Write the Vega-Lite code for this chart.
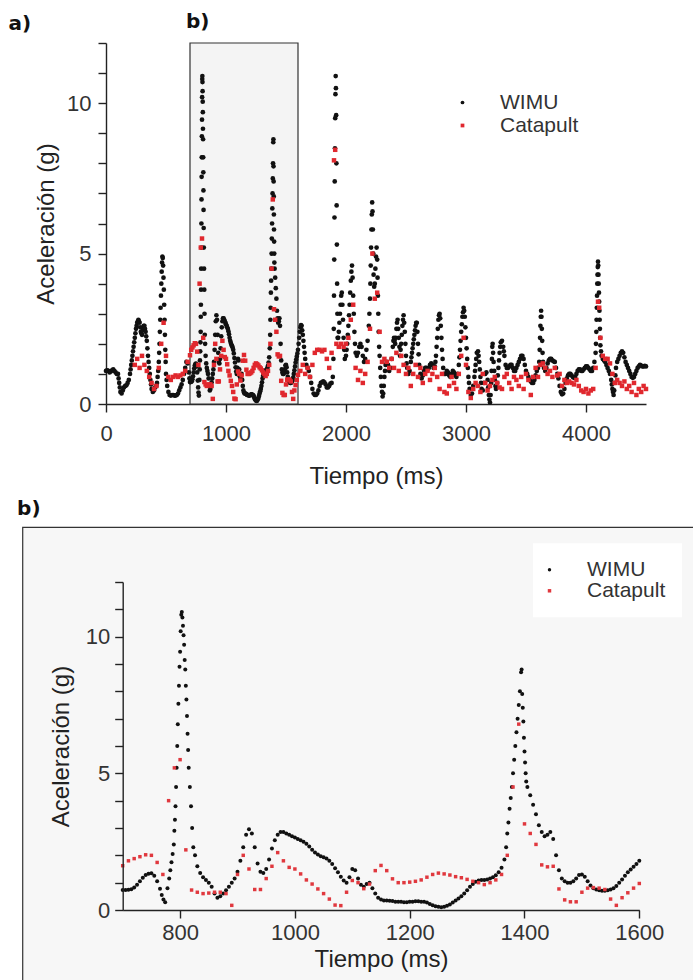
{
"$schema": "https://vega.github.io/schema/vega-lite/v6.json",
"background": "white",
"padding": {"left": 8, "top": 12, "right": 0, "bottom": 0},
"spacing": 10,
"config": {
 "font": "Liberation Sans",
 "view": {"stroke": null},
 "axis": {"grid": false, "domainColor": "#222", "domainWidth": 1.4, "tickColor": "#222", "tickWidth": 1.4, "tickSize": 8, "labelColor": "#333", "labelFontSize": 22, "titleColor": "#222", "titleFontSize": 24, "titleFontWeight": "normal", "labelFlush": false, "labelOverlap": false, "labelBound": false},
 "title": {"font": "DejaVu Sans"}
},
"resolve": {"scale": {"x": "independent", "y": "independent", "color": "independent", "shape": "independent"}, "legend": {"color": "independent", "shape": "independent"}},
"datasets": {
 "zoom": [{"t0": 700, "t1": 1600, "label": "b)"}],
 "wimu": [
{"t":0,"g":1.1},{"t":10,"g":1.12},{"t":20,"g":1.1},{"t":30,"g":1.05},{"t":40,"g":1.08},{"t":50,"g":1.12},{"t":60,"g":1.15},{"t":70,"g":1.1},{"t":80,"g":1.05},{"t":90,"g":1.0},{"t":100,"g":1.0},{"t":105,"g":0.85},{"t":110,"g":0.7},{"t":115,"g":0.55},{"t":120,"g":0.4},{"t":130,"g":0.35},{"t":140,"g":0.45},{"t":150,"g":0.55},{"t":160,"g":0.6},{"t":170,"g":0.62},{"t":180,"g":0.7},{"t":190,"g":0.8},{"t":200,"g":1.0},{"t":205,"g":1.15},{"t":210,"g":1.3},{"t":215,"g":1.45},{"t":220,"g":1.6},{"t":225,"g":1.75},{"t":230,"g":1.9},{"t":235,"g":2.05},{"t":240,"g":2.2},{"t":245,"g":2.35},{"t":250,"g":2.5},{"t":255,"g":2.6},{"t":260,"g":2.7},{"t":265,"g":2.75},{"t":270,"g":2.8},{"t":275,"g":2.75},{"t":280,"g":2.7},{"t":285,"g":2.55},{"t":290,"g":2.4},{"t":295,"g":2.35},{"t":300,"g":2.3},{"t":305,"g":2.45},{"t":310,"g":2.55},{"t":315,"g":2.6},{"t":320,"g":2.6},{"t":325,"g":2.5},{"t":330,"g":2.4},{"t":335,"g":2.25},{"t":340,"g":2.1},{"t":345,"g":1.85},{"t":350,"g":1.6},{"t":355,"g":1.4},{"t":360,"g":1.2},{"t":365,"g":1.0},{"t":370,"g":0.8},{"t":375,"g":0.65},{"t":380,"g":0.5},{"t":390,"g":0.4},{"t":400,"g":0.45},{"t":410,"g":0.55},{"t":420,"g":0.6},{"t":425,"g":0.7},{"t":430,"g":0.9},{"t":435,"g":1.1},{"t":440,"g":1.4},{"t":443,"g":1.7},{"t":446,"g":2.0},{"t":449,"g":2.4},{"t":452,"g":2.8},{"t":455,"g":3.2},{"t":458,"g":3.6},{"t":461,"g":4.0},{"t":464,"g":4.4},{"t":467,"g":4.7},{"t":470,"g":4.9},{"t":473,"g":4.85},{"t":476,"g":4.6},{"t":479,"g":4.2},{"t":482,"g":3.8},{"t":485,"g":3.3},{"t":488,"g":2.8},{"t":491,"g":2.3},{"t":494,"g":1.8},{"t":497,"g":1.4},{"t":500,"g":1.0},{"t":505,"g":0.8},{"t":510,"g":0.6},{"t":520,"g":0.4},{"t":530,"g":0.3},{"t":540,"g":0.28},{"t":550,"g":0.3},{"t":560,"g":0.3},{"t":570,"g":0.28},{"t":580,"g":0.28},{"t":590,"g":0.3},{"t":600,"g":0.35},{"t":610,"g":0.45},{"t":620,"g":0.55},{"t":630,"g":0.65},{"t":640,"g":0.8},{"t":650,"g":1.0},{"t":660,"g":1.2},{"t":670,"g":1.4},{"t":680,"g":1.35},{"t":690,"g":1.05},{"t":695,"g":0.85},
{"t":700,"g":0.73},{"t":705,"g":0.73},{"t":710,"g":0.74},{"t":715,"g":0.76},{"t":720,"g":0.82},{"t":725,"g":0.92},{"t":730,"g":1.05},{"t":735,"g":1.18},{"t":740,"g":1.28},{"t":745,"g":1.33},{"t":750,"g":1.34},{"t":755,"g":1.25},{"t":760,"g":1.05},{"t":765,"g":0.78},{"t":768,"g":0.55},{"t":771,"g":0.38},{"t":774,"g":0.28},{"t":778,"g":0.8},{"t":781,"g":1.15},{"t":783,"g":1.45},{"t":785,"g":1.75},{"t":787,"g":2.05},{"t":789,"g":2.4},{"t":790,"g":2.9},{"t":791,"g":3.3},{"t":792,"g":3.8},{"t":793,"g":4.5},{"t":794,"g":5.2},{"t":795,"g":6.0},{"t":796,"g":6.8},{"t":797,"g":7.55},{"t":798,"g":8.2},{"t":799,"g":8.9},{"t":800,"g":9.45},{"t":801,"g":10.2},{"t":802,"g":10.8},{"t":803,"g":10.9},{"t":804,"g":10.7},{"t":805,"g":10.4},{"t":806,"g":10.05},{"t":807,"g":9.7},{"t":808,"g":9.15},{"t":809,"g":8.8},{"t":810,"g":8.2},{"t":811,"g":7.7},{"t":812,"g":7.1},{"t":813,"g":6.45},{"t":814,"g":5.85},{"t":815,"g":5.2},{"t":817,"g":4.5},{"t":819,"g":3.8},{"t":821,"g":3.0},{"t":823,"g":2.3},{"t":826,"g":2.0},
{"t":830,"g":1.6},{"t":835,"g":1.35},{"t":840,"g":1.2},{"t":845,"g":1.1},{"t":850,"g":1.0},{"t":855,"g":0.85},{"t":860,"g":0.6},{"t":865,"g":0.45},{"t":870,"g":0.5},{"t":875,"g":0.6},{"t":880,"g":0.72},{"t":885,"g":0.85},{"t":890,"g":1.0},{"t":895,"g":1.15},{"t":900,"g":1.4},{"t":905,"g":1.8},{"t":910,"g":2.3},{"t":915,"g":2.75},{"t":920,"g":2.95},{"t":925,"g":2.8},{"t":930,"g":2.3},{"t":935,"g":1.7},{"t":940,"g":1.4},{"t":945,"g":1.35},{"t":950,"g":1.5},{"t":955,"g":1.85},{"t":960,"g":2.25},{"t":965,"g":2.55},{"t":970,"g":2.75},{"t":975,"g":2.85},{"t":980,"g":2.85},{"t":985,"g":2.8},{"t":990,"g":2.75},{"t":995,"g":2.7},{"t":1000,"g":2.65},{"t":1005,"g":2.6},{"t":1010,"g":2.55},{"t":1015,"g":2.5},{"t":1020,"g":2.42},{"t":1025,"g":2.32},{"t":1030,"g":2.2},{"t":1035,"g":2.1},{"t":1040,"g":2.03},{"t":1045,"g":1.97},{"t":1050,"g":1.93},{"t":1055,"g":1.88},{"t":1060,"g":1.8},{"t":1065,"g":1.68},{"t":1070,"g":1.53},{"t":1075,"g":1.38},{"t":1080,"g":1.22},{"t":1085,"g":1.08},{"t":1090,"g":1.0},{"t":1095,"g":1.2},{"t":1100,"g":1.5},{"t":1105,"g":1.45},{"t":1110,"g":1.15},{"t":1115,"g":0.92},{"t":1120,"g":0.85},{"t":1125,"g":0.95},{"t":1130,"g":1.0},{"t":1135,"g":0.8},{"t":1140,"g":0.6},{"t":1145,"g":0.45},{"t":1150,"g":0.38},{"t":1155,"g":0.35},{"t":1160,"g":0.35},{"t":1165,"g":0.34},{"t":1170,"g":0.33},{"t":1175,"g":0.3},{"t":1180,"g":0.3},{"t":1185,"g":0.3},{"t":1190,"g":0.28},{"t":1195,"g":0.28},{"t":1200,"g":0.3},{"t":1205,"g":0.3},{"t":1210,"g":0.32},{"t":1215,"g":0.32},{"t":1220,"g":0.3},{"t":1225,"g":0.3},{"t":1230,"g":0.27},{"t":1235,"g":0.22},{"t":1240,"g":0.17},{"t":1245,"g":0.14},{"t":1250,"g":0.12},{"t":1255,"g":0.1},{"t":1260,"g":0.12},{"t":1265,"g":0.16},{"t":1270,"g":0.2},{"t":1275,"g":0.27},{"t":1280,"g":0.35},{"t":1285,"g":0.42},{"t":1290,"g":0.5},{"t":1295,"g":0.6},{"t":1300,"g":0.72},{"t":1305,"g":0.85},{"t":1310,"g":0.95},{"t":1315,"g":1.03},{"t":1320,"g":1.08},{"t":1325,"g":1.1},{"t":1330,"g":1.1},{"t":1335,"g":1.12},{"t":1340,"g":1.15},{"t":1345,"g":1.2},{"t":1350,"g":1.27},{"t":1355,"g":1.38},{"t":1360,"g":1.55},{"t":1365,"g":1.85},{"t":1368,"g":2.3},{"t":1370,"g":2.8},{"t":1372,"g":3.2},{"t":1374,"g":3.7},{"t":1376,"g":4.1},{"t":1378,"g":4.5},{"t":1380,"g":5.0},{"t":1382,"g":5.5},{"t":1384,"g":6.0},{"t":1386,"g":6.5},{"t":1388,"g":7.0},{"t":1390,"g":7.5},{"t":1392,"g":8.0},{"t":1394,"g":8.7},{"t":1395,"g":8.8},{"t":1396,"g":7.9},{"t":1397,"g":7.4},{"t":1398,"g":6.9},{"t":1399,"g":6.3},{"t":1400,"g":5.8},{"t":1401,"g":5.4},{"t":1402,"g":5.0},{"t":1403,"g":4.7},{"t":1405,"g":4.5},{"t":1410,"g":4.2},{"t":1415,"g":3.85},{"t":1420,"g":3.5},{"t":1425,"g":3.1},{"t":1430,"g":2.85},{"t":1435,"g":2.7},{"t":1440,"g":2.75},{"t":1445,"g":2.85},{"t":1450,"g":2.6},{"t":1455,"g":2.0},{"t":1460,"g":1.45},{"t":1465,"g":1.15},{"t":1470,"g":1.05},{"t":1475,"g":1.0},{"t":1480,"g":1.0},{"t":1485,"g":1.05},{"t":1490,"g":1.15},{"t":1495,"g":1.28},{"t":1500,"g":1.3},{"t":1505,"g":1.22},{"t":1510,"g":1.05},{"t":1515,"g":0.9},{"t":1520,"g":0.8},{"t":1525,"g":0.75},{"t":1530,"g":0.72},{"t":1535,"g":0.7},{"t":1540,"g":0.7},{"t":1545,"g":0.72},{"t":1550,"g":0.75},{"t":1555,"g":0.8},{"t":1560,"g":0.88},{"t":1565,"g":1.0},{"t":1570,"g":1.12},{"t":1575,"g":1.25},{"t":1580,"g":1.38},{"t":1585,"g":1.48},{"t":1590,"g":1.58},{"t":1595,"g":1.68},{"t":1600,"g":1.8},
{"t":1605,"g":2.0},{"t":1610,"g":2.2},{"t":1615,"g":2.4},{"t":1620,"g":2.55},{"t":1625,"g":2.62},{"t":1630,"g":2.6},{"t":1635,"g":2.45},{"t":1640,"g":2.3},{"t":1645,"g":2.1},{"t":1650,"g":1.9},{"t":1655,"g":1.7},{"t":1660,"g":1.5},{"t":1670,"g":1.3},{"t":1680,"g":1.2},{"t":1690,"g":1.1},{"t":1700,"g":0.9},{"t":1710,"g":0.7},{"t":1720,"g":0.5},{"t":1730,"g":0.35},{"t":1740,"g":0.3},{"t":1750,"g":0.3},{"t":1760,"g":0.35},{"t":1770,"g":0.45},{"t":1780,"g":0.6},{"t":1790,"g":0.7},{"t":1800,"g":0.72},{"t":1810,"g":0.75},{"t":1820,"g":0.72},{"t":1830,"g":0.65},{"t":1840,"g":0.55},{"t":1850,"g":0.55},{"t":1860,"g":0.6},{"t":1870,"g":0.68},{"t":1880,"g":0.7},{"t":1890,"g":0.9},{"t":1895,"g":1.5},{"t":1898,"g":2.5},{"t":1900,"g":3.6},{"t":1902,"g":4.8},{"t":1904,"g":6.2},{"t":1906,"g":7.4},{"t":1908,"g":8.5},{"t":1910,"g":9.5},{"t":1912,"g":10.3},{"t":1914,"g":10.9},{"t":1916,"g":10.5},{"t":1918,"g":9.6},{"t":1920,"g":8.0},{"t":1922,"g":6.6},{"t":1924,"g":5.3},{"t":1926,"g":4.0},{"t":1928,"g":3.0},{"t":1930,"g":2.2},{"t":1935,"g":2.2},{"t":1940,"g":2.4},{"t":1945,"g":2.7},{"t":1950,"g":3.0},{"t":1955,"g":3.3},{"t":1960,"g":3.6},{"t":1965,"g":3.7},{"t":1970,"g":3.3},{"t":1975,"g":2.8},{"t":1980,"g":2.2},{"t":1985,"g":1.8},{"t":1990,"g":1.5},{"t":2000,"g":1.6},{"t":2005,"g":1.8},{"t":2010,"g":2.0},{"t":2015,"g":2.3},{"t":2020,"g":2.6},{"t":2025,"g":2.95},{"t":2030,"g":3.3},{"t":2035,"g":3.7},{"t":2040,"g":4.1},{"t":2045,"g":4.4},{"t":2050,"g":4.6},{"t":2055,"g":4.2},{"t":2060,"g":3.6},{"t":2065,"g":3.0},{"t":2070,"g":2.4},{"t":2075,"g":2.0},{"t":2080,"g":1.7},{"t":2090,"g":1.6},{"t":2100,"g":1.7},{"t":2110,"g":1.9},{"t":2120,"g":2.0},{"t":2130,"g":1.9},{"t":2140,"g":1.6},{"t":2150,"g":1.4},{"t":2160,"g":1.5},{"t":2170,"g":1.8},{"t":2180,"g":2.1},{"t":2190,"g":2.6},{"t":2195,"g":3.0},{"t":2200,"g":3.5},{"t":2203,"g":4.0},{"t":2206,"g":4.6},{"t":2209,"g":5.2},{"t":2212,"g":5.8},{"t":2215,"g":6.3},{"t":2218,"g":6.7},{"t":2221,"g":6.4},{"t":2224,"g":5.8},{"t":2227,"g":5.0},{"t":2230,"g":4.3},{"t":2235,"g":3.9},{"t":2240,"g":4.0},{"t":2245,"g":4.5},{"t":2250,"g":4.9},{"t":2255,"g":5.2},{"t":2260,"g":4.8},{"t":2263,"g":4.2},{"t":2266,"g":3.6},{"t":2269,"g":3.0},{"t":2272,"g":2.4},{"t":2276,"g":1.9},{"t":2280,"g":1.6},{"t":2285,"g":1.2},{"t":2290,"g":0.9},{"t":2295,"g":0.6},{"t":2300,"g":0.4},{"t":2305,"g":0.25},{"t":2310,"g":0.35},{"t":2315,"g":0.6},{"t":2320,"g":0.9},{"t":2325,"g":1.1},{"t":2330,"g":1.3},{"t":2340,"g":1.4},{"t":2350,"g":1.3},{"t":2360,"g":1.1},{"t":2370,"g":1.2},{"t":2380,"g":1.5},{"t":2390,"g":1.9},{"t":2395,"g":2.1},{"t":2400,"g":2.2},{"t":2405,"g":2.1},{"t":2410,"g":2.0},{"t":2415,"g":2.2},{"t":2420,"g":2.5},{"t":2425,"g":2.7},{"t":2430,"g":2.8},{"t":2435,"g":2.5},{"t":2440,"g":2.2},{"t":2445,"g":1.9},{"t":2450,"g":1.6},{"t":2455,"g":1.8},{"t":2460,"g":2.0},{"t":2465,"g":2.3},{"t":2470,"g":2.6},{"t":2475,"g":2.8},{"t":2480,"g":2.95},{"t":2485,"g":2.7},{"t":2490,"g":2.4},{"t":2495,"g":2.0},{"t":2500,"g":1.6},{"t":2505,"g":1.35},{"t":2510,"g":1.2},{"t":2520,"g":1.0},{"t":2530,"g":1.1},{"t":2540,"g":1.4},{"t":2545,"g":1.55},{"t":2550,"g":1.7},{"t":2555,"g":1.85},{"t":2560,"g":2.0},{"t":2565,"g":2.15},{"t":2570,"g":2.3},{"t":2575,"g":2.45},{"t":2580,"g":2.6},{"t":2585,"g":2.7},{"t":2590,"g":2.7},{"t":2595,"g":2.4},{"t":2600,"g":2.0},{"t":2605,"g":1.65},{"t":2610,"g":1.3},{"t":2620,"g":1.0},{"t":2630,"g":0.85},{"t":2640,"g":0.95},{"t":2650,"g":1.1},{"t":2660,"g":1.2},{"t":2670,"g":1.2},{"t":2680,"g":1.15},{"t":2690,"g":1.2},{"t":2700,"g":1.3},{"t":2710,"g":1.35},{"t":2720,"g":1.3},{"t":2730,"g":1.2},{"t":2740,"g":1.25},{"t":2745,"g":1.4},{"t":2750,"g":1.6},{"t":2755,"g":1.9},{"t":2760,"g":2.2},{"t":2765,"g":2.5},{"t":2770,"g":2.8},{"t":2775,"g":2.95},{"t":2780,"g":3.0},{"t":2785,"g":2.85},{"t":2790,"g":2.6},{"t":2795,"g":2.2},{"t":2800,"g":1.8},{"t":2805,"g":1.5},{"t":2810,"g":1.2},{"t":2820,"g":1.0},{"t":2830,"g":1.0},{"t":2840,"g":1.1},{"t":2850,"g":1.05},{"t":2860,"g":0.95},{"t":2870,"g":0.9},{"t":2880,"g":1.0},{"t":2890,"g":1.1},{"t":2900,"g":1.05},{"t":2910,"g":0.95},{"t":2920,"g":0.9},{"t":2930,"g":1.0},{"t":2940,"g":1.3},{"t":2945,"g":1.55},{"t":2950,"g":1.8},{"t":2955,"g":2.1},{"t":2960,"g":2.4},{"t":2965,"g":2.65},{"t":2970,"g":2.9},{"t":2975,"g":3.05},{"t":2980,"g":3.2},{"t":2985,"g":3.1},{"t":2990,"g":2.9},{"t":2995,"g":2.55},{"t":3000,"g":2.2},{"t":3005,"g":1.85},{"t":3010,"g":1.5},{"t":3015,"g":1.2},{"t":3020,"g":0.9},{"t":3025,"g":0.7},{"t":3030,"g":0.5},{"t":3040,"g":0.3},{"t":3050,"g":0.35},{"t":3060,"g":0.6},{"t":3070,"g":0.9},{"t":3075,"g":1.1},{"t":3080,"g":1.3},{"t":3085,"g":1.5},{"t":3090,"g":1.7},{"t":3100,"g":1.75},{"t":3105,"g":1.6},{"t":3110,"g":1.4},{"t":3115,"g":1.15},{"t":3120,"g":0.9},{"t":3125,"g":0.7},{"t":3130,"g":0.5},{"t":3140,"g":0.45},{"t":3150,"g":0.7},{"t":3160,"g":1.0},{"t":3170,"g":1.05},{"t":3180,"g":0.8},{"t":3185,"g":0.55},{"t":3190,"g":0.3},{"t":3195,"g":0.15},{"t":3200,"g":0.05},{"t":3205,"g":0.3},{"t":3210,"g":0.7},{"t":3213,"g":1.1},{"t":3216,"g":1.5},{"t":3219,"g":1.9},{"t":3222,"g":2.0},{"t":3226,"g":1.7},{"t":3230,"g":1.4},{"t":3235,"g":1.1},{"t":3240,"g":0.8},{"t":3245,"g":0.6},{"t":3250,"g":0.5},{"t":3255,"g":0.55},{"t":3260,"g":0.7},{"t":3265,"g":0.95},{"t":3270,"g":1.2},{"t":3275,"g":1.45},{"t":3280,"g":1.7},{"t":3285,"g":1.9},{"t":3290,"g":2.05},{"t":3300,"g":2.1},{"t":3310,"g":1.9},{"t":3315,"g":1.75},{"t":3320,"g":1.6},{"t":3330,"g":1.3},{"t":3340,"g":1.2},{"t":3350,"g":1.2},{"t":3360,"g":1.25},{"t":3370,"g":1.3},{"t":3380,"g":1.3},{"t":3390,"g":1.2},{"t":3400,"g":1.1},{"t":3410,"g":1.1},{"t":3420,"g":1.2},{"t":3430,"g":1.3},{"t":3440,"g":1.4},{"t":3450,"g":1.5},{"t":3460,"g":1.6},{"t":3470,"g":1.6},{"t":3480,"g":1.5},{"t":3490,"g":1.3},{"t":3500,"g":1.1},{"t":3510,"g":1.0},{"t":3520,"g":0.9},{"t":3530,"g":0.8},{"t":3540,"g":0.75},{"t":3550,"g":0.7},{"t":3560,"g":0.7},{"t":3570,"g":0.8},{"t":3580,"g":0.95},{"t":3590,"g":1.1},{"t":3600,"g":1.2},{"t":3610,"g":1.4},{"t":3614,"g":1.8},{"t":3617,"g":2.2},{"t":3620,"g":2.6},{"t":3623,"g":2.9},{"t":3626,"g":3.1},{"t":3629,"g":2.9},{"t":3632,"g":2.5},{"t":3635,"g":2.1},{"t":3638,"g":1.7},{"t":3642,"g":1.4},{"t":3650,"g":1.2},{"t":3660,"g":1.1},{"t":3670,"g":1.2},{"t":3680,"g":1.35},{"t":3690,"g":1.45},{"t":3700,"g":1.5},{"t":3710,"g":1.5},{"t":3720,"g":1.45},{"t":3730,"g":1.42},{"t":3740,"g":1.4},{"t":3750,"g":1.2},{"t":3760,"g":1.0},{"t":3770,"g":0.85},{"t":3780,"g":0.6},{"t":3790,"g":0.4},{"t":3800,"g":0.32},{"t":3810,"g":0.35},{"t":3820,"g":0.5},{"t":3830,"g":0.7},{"t":3840,"g":0.85},{"t":3850,"g":0.95},{"t":3860,"g":1.0},{"t":3870,"g":1.0},{"t":3880,"g":0.95},{"t":3890,"g":0.9},{"t":3900,"g":0.87},{"t":3910,"g":0.9},{"t":3920,"g":1.0},{"t":3930,"g":1.1},{"t":3940,"g":1.15},{"t":3950,"g":1.15},{"t":3960,"g":1.1},{"t":3970,"g":1.1},{"t":3980,"g":1.15},{"t":3990,"g":1.2},{"t":4000,"g":1.25},{"t":4010,"g":1.25},{"t":4020,"g":1.2},{"t":4030,"g":1.15},{"t":4040,"g":1.1},{"t":4050,"g":1.1},{"t":4060,"g":1.2},{"t":4070,"g":1.4},{"t":4080,"g":1.7},{"t":4083,"g":2.0},{"t":4086,"g":2.4},{"t":4088,"g":2.8},{"t":4090,"g":3.2},{"t":4092,"g":3.6},{"t":4094,"g":4.0},{"t":4096,"g":4.3},{"t":4098,"g":4.55},{"t":4100,"g":4.73},{"t":4102,"g":4.6},{"t":4104,"g":4.3},{"t":4106,"g":4.0},{"t":4108,"g":3.7},{"t":4110,"g":3.4},{"t":4112,"g":3.1},{"t":4114,"g":2.8},{"t":4116,"g":2.5},{"t":4118,"g":2.2},{"t":4120,"g":1.95},{"t":4125,"g":1.75},{"t":4130,"g":1.6},{"t":4140,"g":1.5},{"t":4150,"g":1.45},{"t":4160,"g":1.4},{"t":4170,"g":1.3},{"t":4180,"g":1.2},{"t":4190,"g":1.1},{"t":4200,"g":1.0},{"t":4210,"g":0.8},{"t":4215,"g":0.65},{"t":4220,"g":0.5},{"t":4225,"g":0.4},{"t":4230,"g":0.3},{"t":4235,"g":0.45},{"t":4240,"g":0.7},{"t":4245,"g":0.95},{"t":4250,"g":1.2},{"t":4260,"g":1.4},{"t":4270,"g":1.5},{"t":4280,"g":1.6},{"t":4290,"g":1.7},{"t":4300,"g":1.75},{"t":4310,"g":1.7},{"t":4320,"g":1.55},{"t":4330,"g":1.4},{"t":4340,"g":1.3},{"t":4350,"g":1.2},{"t":4360,"g":1.1},{"t":4370,"g":1.0},{"t":4380,"g":0.9},{"t":4390,"g":0.87},{"t":4400,"g":0.9},{"t":4410,"g":1.0},{"t":4420,"g":1.1},{"t":4430,"g":1.2},{"t":4440,"g":1.25},{"t":4450,"g":1.3},{"t":4460,"g":1.28},{"t":4470,"g":1.25},{"t":4480,"g":1.25},{"t":4490,"g":1.27},{"t":4500,"g":1.25}
 ],
 "cat": [
{"t":240,"g":1.3},{"t":260,"g":1.5},{"t":280,"g":1.2},{"t":300,"g":1.6},{"t":320,"g":1.3},{"t":340,"g":1.1},{"t":360,"g":0.9},{"t":380,"g":0.7},{"t":400,"g":0.5},{"t":420,"g":0.6},{"t":440,"g":1.2},{"t":460,"g":2.0},{"t":480,"g":2.7},{"t":500,"g":1.6},{"t":520,"g":0.9},{"t":540,"g":0.8},{"t":560,"g":0.9},{"t":580,"g":0.95},{"t":600,"g":0.9},{"t":620,"g":0.95},{"t":640,"g":1.0},{"t":660,"g":1.1},{"t":680,"g":1.4},
{"t":700,"g":1.62},{"t":710,"g":1.8},{"t":720,"g":1.88},{"t":730,"g":1.95},{"t":740,"g":2.02},{"t":750,"g":2.0},{"t":760,"g":1.74},{"t":770,"g":1.3},{"t":780,"g":4.0},{"t":790,"g":5.2},{"t":800,"g":5.5},{"t":810,"g":2.2},{"t":820,"g":0.73},{"t":830,"g":0.65},{"t":840,"g":0.6},{"t":850,"g":0.62},{"t":860,"g":0.65},{"t":870,"g":0.65},{"t":880,"g":0.6},{"t":890,"g":0.17},{"t":900,"g":1.3},{"t":910,"g":2.0},{"t":920,"g":1.5},{"t":930,"g":0.75},{"t":940,"g":0.75},{"t":950,"g":1.15},{"t":960,"g":1.6},{"t":970,"g":2.1},{"t":980,"g":1.8},{"t":990,"g":1.56},{"t":1000,"g":1.5},{"t":1010,"g":1.32},{"t":1020,"g":1.1},{"t":1030,"g":0.95},{"t":1040,"g":0.77},{"t":1050,"g":0.6},{"t":1060,"g":0.4},{"t":1070,"g":0.18},{"t":1080,"g":0.16},{"t":1090,"g":0.65},{"t":1100,"g":1.08},{"t":1110,"g":1.0},{"t":1120,"g":0.78},{"t":1130,"g":0.95},{"t":1140,"g":1.44},{"t":1150,"g":1.63},{"t":1160,"g":1.44},{"t":1170,"g":1.14},{"t":1180,"g":1.0},{"t":1190,"g":1.0},{"t":1200,"g":1.02},{"t":1210,"g":1.05},{"t":1220,"g":1.1},{"t":1230,"g":1.2},{"t":1240,"g":1.3},{"t":1250,"g":1.35},{"t":1260,"g":1.32},{"t":1270,"g":1.28},{"t":1280,"g":1.22},{"t":1290,"g":1.18},{"t":1300,"g":1.12},{"t":1310,"g":1.05},{"t":1320,"g":1.0},{"t":1330,"g":0.93},{"t":1340,"g":1.0},{"t":1350,"g":1.1},{"t":1360,"g":1.3},{"t":1370,"g":2.0},{"t":1380,"g":4.5},{"t":1390,"g":6.8},{"t":1400,"g":3.15},{"t":1410,"g":2.8},{"t":1420,"g":2.4},{"t":1430,"g":1.65},{"t":1440,"g":1.58},{"t":1450,"g":1.6},{"t":1460,"g":0.77},{"t":1470,"g":0.37},{"t":1480,"g":0.3},{"t":1490,"g":0.3},{"t":1500,"g":0.65},{"t":1510,"g":0.8},{"t":1520,"g":0.82},{"t":1530,"g":0.8},{"t":1540,"g":0.75},{"t":1550,"g":0.4},{"t":1560,"g":0.17},{"t":1570,"g":0.45},{"t":1580,"g":0.63},{"t":1590,"g":0.8},{"t":1600,"g":0.97},
{"t":1620,"g":1.1},{"t":1640,"g":1.3},{"t":1660,"g":1.0},{"t":1680,"g":1.2},{"t":1700,"g":0.9},{"t":1720,"g":1.3},{"t":1740,"g":1.7},{"t":1760,"g":1.8},{"t":1780,"g":1.8},{"t":1800,"g":1.75},{"t":1820,"g":1.8},{"t":1840,"g":1.5},{"t":1860,"g":1.2},{"t":1880,"g":1.7},{"t":1900,"g":8.1},{"t":1910,"g":8.45},{"t":1920,"g":2.0},{"t":1940,"g":1.9},{"t":1960,"g":2.0},{"t":1980,"g":1.9},{"t":2000,"g":2.0},{"t":2020,"g":2.2},{"t":2040,"g":2.8},{"t":2060,"g":3.3},{"t":2080,"g":1.2},{"t":2100,"g":0.8},{"t":2120,"g":1.1},{"t":2140,"g":0.7},{"t":2160,"g":1.0},{"t":2180,"g":1.4},{"t":2200,"g":2.5},{"t":2220,"g":5.0},{"t":2240,"g":3.5},{"t":2260,"g":3.7},{"t":2280,"g":2.4},{"t":2300,"g":1.4},{"t":2320,"g":1.5},{"t":2340,"g":1.4},{"t":2360,"g":1.2},{"t":2380,"g":1.5},{"t":2400,"g":1.2},{"t":2420,"g":1.7},{"t":2440,"g":1.1},{"t":2460,"g":1.6},{"t":2480,"g":1.3},{"t":2500,"g":1.0},{"t":2520,"g":1.2},{"t":2540,"g":0.6},{"t":2560,"g":1.0},{"t":2580,"g":1.3},{"t":2600,"g":0.9},{"t":2620,"g":1.2},{"t":2640,"g":0.7},{"t":2660,"g":1.0},{"t":2680,"g":1.1},{"t":2700,"g":0.8},{"t":2720,"g":1.0},{"t":2740,"g":1.2},{"t":2760,"g":0.9},{"t":2780,"g":0.5},{"t":2800,"g":1.0},{"t":2820,"g":0.4},{"t":2840,"g":0.35},{"t":2860,"g":0.6},{"t":2880,"g":0.9},{"t":2900,"g":0.7},{"t":2920,"g":0.5},{"t":2940,"g":1.0},{"t":2960,"g":1.6},{"t":2980,"g":2.2},{"t":3000,"g":1.3},{"t":3020,"g":0.4},{"t":3040,"g":0.2},{"t":3060,"g":0.5},{"t":3080,"g":0.7},{"t":3100,"g":0.6},{"t":3120,"g":0.4},{"t":3140,"g":1.0},{"t":3160,"g":0.7},{"t":3180,"g":0.45},{"t":3200,"g":0.6},{"t":3220,"g":0.8},{"t":3240,"g":0.9},{"t":3260,"g":0.7},{"t":3280,"g":0.55},{"t":3300,"g":0.5},{"t":3320,"g":0.9},{"t":3340,"g":1.0},{"t":3360,"g":0.7},{"t":3380,"g":0.5},{"t":3400,"g":0.9},{"t":3420,"g":0.8},{"t":3440,"g":0.6},{"t":3460,"g":0.9},{"t":3480,"g":0.5},{"t":3500,"g":1.0},{"t":3520,"g":0.8},{"t":3540,"g":0.3},{"t":3560,"g":0.9},{"t":3580,"g":1.2},{"t":3600,"g":0.9},{"t":3620,"g":1.3},{"t":3640,"g":1.35},{"t":3660,"g":1.2},{"t":3680,"g":1.0},{"t":3700,"g":1.1},{"t":3720,"g":0.9},{"t":3740,"g":1.2},{"t":3760,"g":0.95},{"t":3780,"g":1.0},{"t":3800,"g":0.6},{"t":3820,"g":0.8},{"t":3840,"g":0.7},{"t":3860,"g":0.75},{"t":3880,"g":0.7},{"t":3900,"g":0.65},{"t":3920,"g":0.8},{"t":3940,"g":0.6},{"t":3960,"g":0.45},{"t":3980,"g":0.4},{"t":4000,"g":0.5},{"t":4020,"g":0.35},{"t":4040,"g":0.45},{"t":4060,"g":0.5},{"t":4080,"g":1.2},{"t":4100,"g":3.4},{"t":4110,"g":3.2},{"t":4120,"g":2.2},{"t":4140,"g":1.6},{"t":4160,"g":1.5},{"t":4180,"g":1.5},{"t":4200,"g":1.35},{"t":4220,"g":1.0},{"t":4240,"g":0.7},{"t":4260,"g":0.8},{"t":4280,"g":0.7},{"t":4300,"g":0.6},{"t":4320,"g":0.75},{"t":4340,"g":0.5},{"t":4360,"g":0.6},{"t":4380,"g":0.4},{"t":4400,"g":0.7},{"t":4420,"g":0.3},{"t":4440,"g":0.5},{"t":4460,"g":0.4},{"t":4480,"g":0.6},{"t":4500,"g":0.5}
 ]
},
"vconcat": [
 {
  "width": 540, "height": 361,
  "title": {"text": "a)", "anchor": "start", "frame": "bounds", "dx": -26, "dy": 22, "offset": 0, "fontSize": 20, "fontWeight": "bold", "color": "#111"},
  "layer": [
   {"data": {"name": "zoom"},
    "mark": {"type": "rect", "fill": "#f4f4f4", "stroke": "#333", "strokeWidth": 1.2},
    "encoding": {
     "x": {"field": "t0", "type": "quantitative", "title": "Tiempo (ms)",
       "scale": {"domain": [0, 4500], "nice": false, "zero": false},
       "axis": {"values": [0, 1000, 2000, 3000, 4000], "format": "d", "labelPadding": 11, "titlePadding": 20, "labelOverlap": false}},
     "x2": {"field": "t1"},
     "y": {"datum": 0, "type": "quantitative", "title": "Aceleración (g)",
       "scale": {"domain": [0, 12], "nice": false},
       "axis": {"values": [0,1,2,3,4,5,6,7,8,9,10,11,12], "labelExpr": "datum.value % 5 === 0 ? datum.label : ''", "labelOverlap": false, "labelPadding": 7, "titlePadding": 8}},
     "y2": {"datum": 12}
    }},
   {"data": {"name": "zoom"},
    "mark": {"type": "text", "align": "left", "baseline": "alphabetic", "dx": -4, "dy": -15, "font": "DejaVu Sans", "fontSize": 20, "fontWeight": "bold", "color": "#111"},
    "encoding": {
     "x": {"field": "t0", "type": "quantitative", "title": "Tiempo (ms)",
       "scale": {"domain": [0, 4500], "nice": false, "zero": false},
       "axis": {"values": [0, 1000, 2000, 3000, 4000], "format": "d", "labelPadding": 11, "titlePadding": 20, "labelOverlap": false}},
     "y": {"datum": 12, "type": "quantitative", "title": "Aceleración (g)",
       "scale": {"domain": [0, 12], "nice": false},
       "axis": {"values": [0,1,2,3,4,5,6,7,8,9,10,11,12], "labelExpr": "datum.value % 5 === 0 ? datum.label : ''", "labelOverlap": false, "labelPadding": 7, "titlePadding": 8}},
     "text": {"field": "label"}
    }},
   {"data": {"name": "wimu"},
    "mark": {"type": "point", "filled": true, "size": 22, "opacity": 1},
    "encoding": {
     "x": {"field": "t", "type": "quantitative", "title": "Tiempo (ms)",
       "scale": {"domain": [0, 4500], "nice": false, "zero": false},
       "axis": {"values": [0, 1000, 2000, 3000, 4000], "format": "d", "labelPadding": 11, "titlePadding": 20, "labelOverlap": false}},
     "y": {"field": "g", "type": "quantitative", "title": "Aceleración (g)",
       "scale": {"domain": [0, 12], "nice": false},
       "axis": {"values": [0,1,2,3,4,5,6,7,8,9,10,11,12], "labelExpr": "datum.value % 5 === 0 ? datum.label : ''", "labelOverlap": false, "labelPadding": 7, "titlePadding": 8}},
     "color": {"datum": "WIMU", "type": "nominal", "scale": {"domain": ["WIMU", "Catapult"], "range": ["#111111", "#e0282e"]},
       "legend": {"title": null, "orient": "none", "legendX": 346, "legendY": 49, "padding": 0, "labelOffset": 27, "rowPadding": 1, "symbolSize": 14, "labelFontSize": 21, "labelColor": "#333"}},
     "shape": {"datum": "WIMU", "type": "nominal", "scale": {"domain": ["WIMU", "Catapult"], "range": ["circle", "square"]},
       "legend": {"title": null, "orient": "none", "legendX": 346, "legendY": 49, "padding": 0, "labelOffset": 27, "rowPadding": 1, "symbolSize": 14, "labelFontSize": 21, "labelColor": "#333"}}
    }},
   {"data": {"name": "cat"},
    "mark": {"type": "point", "filled": true, "size": 20, "opacity": 1},
    "encoding": {
     "x": {"field": "t", "type": "quantitative", "title": "Tiempo (ms)",
       "scale": {"domain": [0, 4500], "nice": false, "zero": false},
       "axis": {"values": [0, 1000, 2000, 3000, 4000], "format": "d", "labelPadding": 11, "titlePadding": 20, "labelOverlap": false}},
     "y": {"field": "g", "type": "quantitative", "title": "Aceleración (g)",
       "scale": {"domain": [0, 12], "nice": false},
       "axis": {"values": [0,1,2,3,4,5,6,7,8,9,10,11,12], "labelExpr": "datum.value % 5 === 0 ? datum.label : ''", "labelOverlap": false, "labelPadding": 7, "titlePadding": 8}},
     "color": {"datum": "Catapult", "type": "nominal"},
     "shape": {"datum": "Catapult", "type": "nominal"}
    }}
  ]
 },
 {
  "width": 534, "height": 328,
  "title": {"text": "b)", "anchor": "start", "frame": "bounds", "dx": -5, "offset": 8, "fontSize": 20, "fontWeight": "bold", "color": "#111"},
  "layer": [
   {"data": {"name": "zoom"},
    "mark": {"type": "rect", "fill": "#f7f7f7", "stroke": "#333", "strokeWidth": 1.2},
    "encoding": {
     "x": {"datum": 525.8, "type": "quantitative", "title": "Tiempo (ms)",
       "scale": {"domain": [700, 1600], "range": [16.7, 533.3], "nice": false, "zero": false},
       "axis": {"values": [800, 1000, 1200, 1400, 1600], "format": "d", "labelOverlap": false, "labelPadding": 4, "titlePadding": 4, "zindex": 1}},
     "x2": {"datum": 1700},
     "y": {"datum": -2.7, "type": "quantitative", "title": "Aceleración (g)",
       "scale": {"domain": [0, 12], "nice": false},
       "axis": {"values": [0,1,2,3,4,5,6,7,8,9,10,11,12], "labelExpr": "datum.value % 5 === 0 ? datum.label : ''", "labelOverlap": false, "labelPadding": 5, "titlePadding": 12, "offset": -16.7, "zindex": 1}},
     "y2": {"datum": 14.0}
    }},
   {"data": {"name": "wimu"},
    "transform": [{"filter": {"field": "t", "range": [700, 1600]}}],
    "mark": {"type": "point", "filled": true, "size": 16, "opacity": 1},
    "encoding": {
     "x": {"field": "t", "type": "quantitative", "title": "Tiempo (ms)",
       "scale": {"domain": [700, 1600], "range": [16.7, 533.3], "nice": false, "zero": false},
       "axis": {"values": [800, 1000, 1200, 1400, 1600], "format": "d", "labelOverlap": false, "labelPadding": 4, "titlePadding": 4, "zindex": 1}},
     "y": {"field": "g", "type": "quantitative", "title": "Aceleración (g)",
       "scale": {"domain": [0, 12], "nice": false},
       "axis": {"values": [0,1,2,3,4,5,6,7,8,9,10,11,12], "labelExpr": "datum.value % 5 === 0 ? datum.label : ''", "labelOverlap": false, "labelPadding": 5, "titlePadding": 12, "offset": -16.7, "zindex": 1}},
     "color": {"datum": "WIMU", "type": "nominal", "scale": {"domain": ["WIMU", "Catapult"], "range": ["#111111", "#e0383e"]},
       "legend": {"title": null, "orient": "none", "legendX": 427, "legendY": -38.7, "padding": 16, "symbolOffset": -10, "fillColor": "white", "labelOffset": 27, "rowPadding": -3, "symbolSize": 12, "labelFontSize": 21, "labelColor": "#333"}},
     "shape": {"datum": "WIMU", "type": "nominal", "scale": {"domain": ["WIMU", "Catapult"], "range": ["circle", "square"]},
       "legend": {"title": null, "orient": "none", "legendX": 427, "legendY": -38.7, "padding": 16, "symbolOffset": -10, "fillColor": "white", "labelOffset": 27, "rowPadding": -3, "symbolSize": 12, "labelFontSize": 21, "labelColor": "#333"}}
    }},
   {"data": {"name": "cat"},
    "transform": [{"filter": {"field": "t", "range": [700, 1600]}}],
    "mark": {"type": "point", "filled": true, "size": 12, "opacity": 1},
    "encoding": {
     "x": {"field": "t", "type": "quantitative", "title": "Tiempo (ms)",
       "scale": {"domain": [700, 1600], "range": [16.7, 533.3], "nice": false, "zero": false},
       "axis": {"values": [800, 1000, 1200, 1400, 1600], "format": "d", "labelOverlap": false, "labelPadding": 4, "titlePadding": 4, "zindex": 1}},
     "y": {"field": "g", "type": "quantitative", "title": "Aceleración (g)",
       "scale": {"domain": [0, 12], "nice": false},
       "axis": {"values": [0,1,2,3,4,5,6,7,8,9,10,11,12], "labelExpr": "datum.value % 5 === 0 ? datum.label : ''", "labelOverlap": false, "labelPadding": 5, "titlePadding": 12, "offset": -16.7, "zindex": 1}},
     "color": {"datum": "Catapult", "type": "nominal"},
     "shape": {"datum": "Catapult", "type": "nominal"}
    }}
  ]
 }
]
}
